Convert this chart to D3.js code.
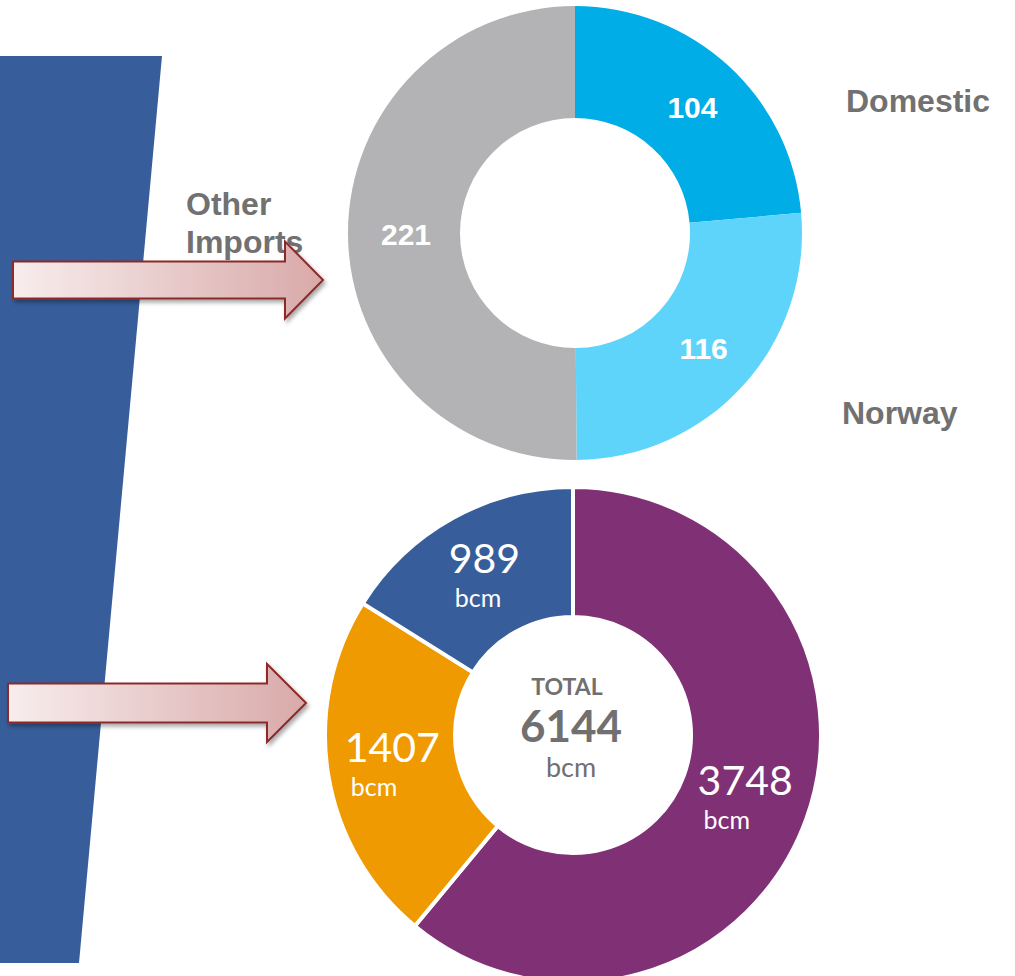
<!DOCTYPE html>
<html>
<head>
<meta charset="utf-8">
<script src="https://cdn.jsdelivr.net/npm/d3@7"></script>
<style>
  html, body { margin: 0; padding: 0; background: #fff; }
  svg { display: block; }
</style>
</head>
<body>
<div id="chart"></div>
<script>
// top donut: supply sources
const topCategories = ['Domestic', 'Norway', 'Other Imports'];
const topValues = [104, 116, 221];
const topColors = ['#00ade6', '#5fd4fb', '#b3b3b5'];

// bottom donut: reserves (bcm)
const bottomValues = [3748, 1407, 989];
const bottomColors = ['#803176', '#ef9a00', '#375e9b'];
const unit = 'bcm';

const width = 1015, height = 976;

const svg = d3.select('#chart').append('svg')
  .attr('width', width)
  .attr('height', height);

const defs = svg.append('defs');
const grad = defs.append('linearGradient').attr('id', 'arrowFill');
grad.append('stop').attr('offset', '0%').attr('stop-color', '#f8eded');
grad.append('stop').attr('offset', '100%').attr('stop-color', '#d9a9a9');
defs.append('filter').attr('id', 'shadow')
  .attr('x', '-10%').attr('y', '-20%').attr('width', '130%').attr('height', '160%')
  .append('feDropShadow')
  .attr('dx', 2).attr('dy', 3).attr('stdDeviation', 2)
  .attr('flood-color', '#000').attr('flood-opacity', 0.35);

// slanted blue band on the left
svg.append('path')
  .attr('d', d3.line()([[0, 56], [162, 56], [79, 963], [0, 963]]) + 'Z')
  .attr('fill', '#375e9b');

const pie = d3.pie().sort(null).value(d => d);

// ---- top donut ----
const topG = svg.append('g').attr('transform', 'translate(575,233)');
const topArc = d3.arc().innerRadius(115).outerRadius(227);
const topArcs = pie(topValues);

topG.selectAll('path')
  .data(topArcs)
  .enter()
  .append('path')
  .attr('d', topArc)
  .attr('fill', (_, i) => topColors[i]);

topG.selectAll('text.val')
  .data(topArcs)
  .enter()
  .append('text')
  .classed('val', true)
  .attr('x', d => topArc.centroid(d)[0] + 2)
  .attr('y', d => topArc.centroid(d)[1] + 11)
  .attr('text-anchor', 'middle')
  .style('font-family', '"Liberation Sans", Arial, sans-serif')
  .style('font-weight', 700)
  .style('font-size', '30px')
  .attr('fill', '#fff')
  .text(d => d.data);

// category labels outside the ring
const labelFont = g => g
  .style('font-family', '"Liberation Sans", Arial, sans-serif')
  .style('font-weight', 700)
  .style('font-size', '32px')
  .attr('fill', '#717171');

svg.append('text').attr('x', 846).attr('y', 112).call(labelFont).text(topCategories[0]);
svg.append('text').attr('x', 842).attr('y', 424).call(labelFont).text(topCategories[1]);
const other = svg.append('text').attr('x', 186).attr('y', 215).call(labelFont);
topCategories[2].split(' ').forEach((w, i) => {
  other.append('tspan').attr('x', 186).attr('dy', i === 0 ? 0 : 38).text(w);
});

// ---- bottom donut ----
const bottomG = svg.append('g').attr('transform', 'translate(573,735)');
const botArc = d3.arc().innerRadius(118).outerRadius(248);
const botArcs = pie(bottomValues);

bottomG.selectAll('path')
  .data(botArcs)
  .enter()
  .append('path')
  .attr('d', botArc)
  .attr('fill', (_, i) => bottomColors[i])
  .attr('stroke', '#fff')
  .attr('stroke-width', 4)
  .attr('stroke-linejoin', 'round');

const lato = '"Lato", "Open Sans", sans-serif';

// value + unit, unit tucked under the number
botArcs.forEach(d => {
  const [cx, cy] = botArc.centroid(d);
  const num = bottomG.append('text')
    .attr('x', cx)
    .attr('y', cy - 2)
    .attr('text-anchor', 'middle')
    .style('font-family', lato)
    .style('font-size', '41px')
    .attr('fill', '#fff')
    .text(d.data);
  const w = num.node().getComputedTextLength();
  bottomG.append('text')
    .attr('x', cx - w / 2 + 6)
    .attr('y', cy + 32)
    .style('font-family', lato)
    .style('font-size', '25px')
    .attr('fill', '#fff')
    .text(unit);
});

// centre total
const total = d3.sum(bottomValues);
const centre = bottomG.append('g')
  .attr('fill', '#707070')
  .style('font-family', lato)
  .attr('text-anchor', 'middle');
centre.append('text').attr('x', -6).attr('y', -40)
  .style('font-size', '23px').style('font-weight', 700).text('TOTAL');
centre.append('text').attr('x', -2).attr('y', 7)
  .style('font-size', '44px').style('font-weight', 700).text(total);
centre.append('text').attr('x', -2).attr('y', 42)
  .style('font-size', '27px').text(unit);

// ---- block arrows ----
const arrow = (x0, yMid, bodyEnd, tip, bodyH, headH) => d3.line()([
  [x0, yMid - bodyH / 2], [bodyEnd, yMid - bodyH / 2], [bodyEnd, yMid - headH / 2],
  [tip, yMid], [bodyEnd, yMid + headH / 2], [bodyEnd, yMid + bodyH / 2],
  [x0, yMid + bodyH / 2]
]) + 'Z';

[[13, 280, 285, 323, 37, 77], [8, 703, 267, 306, 39, 78]].forEach(a => {
  svg.append('path')
    .attr('d', arrow(...a))
    .attr('fill', 'url(#arrowFill)')
    .attr('stroke', '#8c2b2b')
    .attr('stroke-width', 2)
    .attr('stroke-linejoin', 'miter')
    .attr('filter', 'url(#shadow)');
});
</script>
</body>
</html>
